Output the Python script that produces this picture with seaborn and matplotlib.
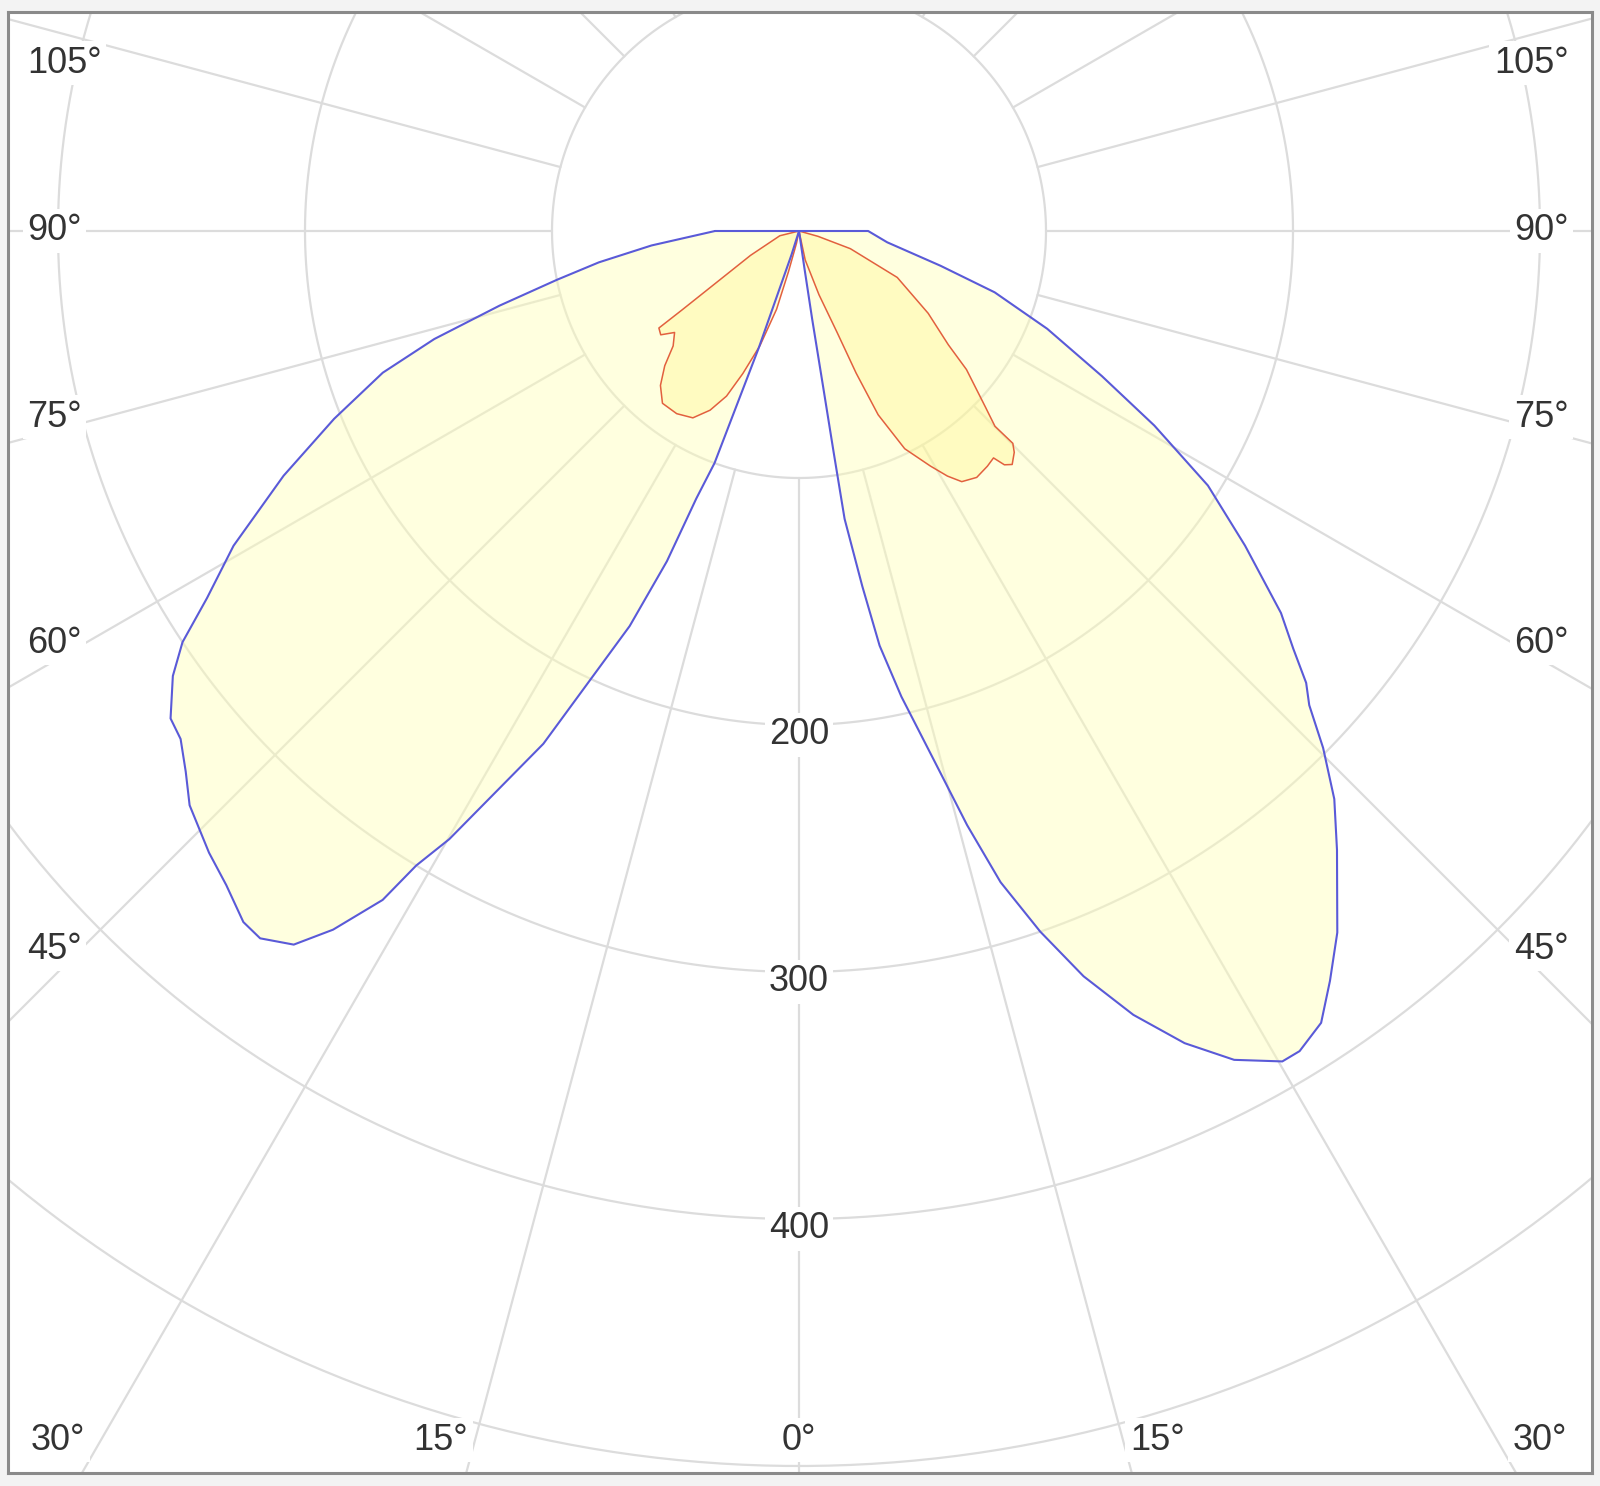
"""Luminous intensity diagram (cd) in C0/C180 and C90/C270 planes."""

import matplotlib
matplotlib.use("Agg")
import matplotlib.pyplot as plt
import numpy as np
import pandas as pd
import seaborn as sns

# C0-C180 plane (blue); negative gamma = C180 side
BLUE_GAMMA = [-90, -84.4, -81.1, -78.6, -76.0, -73.5, -71.2, -68.0, -64.6, -60.9,
              -58.2, -56.3, -54.6, -52.2, -50.6, -48.6, -46.7, -43.5, -41.2, -38.8,
              -37.3, -35.3, -33.7, -31.9, -31.1, -29.9, -26.5, -23.2, -21.8, -21.0,
              -20.0, -19.0, -17.5, -15.0,
              0, 7.5, 8.3, 8.5, 8.8, 8.9, 9.0, 10.1, 11.0, 12.4,
              14.3, 15.8, 17.2, 19.0, 20.9, 23.1, 25.4, 27.7, 30.2, 31.4,
              33.4, 35.3, 37.5, 41.0, 43.3, 45.4, 47.1, 48.3, 49.8, 51.6,
              54.8, 58.1, 61.3, 64.4, 68.5, 72.6, 76.2, 82.7, 90]
BLUE_CD = [34, 60, 82, 100, 125, 154, 178, 203, 231, 262,
           282, 300, 311, 322, 324, 331, 339, 347, 352, 359,
           360, 354, 340, 319, 300, 284, 232, 174, 144, 116,
           100, 50, 10, 0,
           0, 0, 15, 36, 63, 91, 118, 146, 171, 193,
           221, 250, 276, 300, 323, 345, 364, 379, 389, 389,
           384, 372, 358, 332, 316, 298, 282, 275, 262, 249,
           221, 195, 164, 136, 108, 83, 59, 36, 28]

# C90-C270 plane (red)
RED_GAMMA = [-90, -76.1, -63.3, -58.1, -56.0, -55.3, -53.1, -50.8, -47.6, -44.9,
             -41.9, -38.4, -33.8, -29.6, -26.4, -23.7, -21.5, -18.8, -16.0, -14.5,
             -11.5, 0, 12.1, 17.4, 20.6, 21.9, 23.3, 25.9, 29.2, 31.2,
             33.0, 35.8, 38.7, 40.6, 41.3, 42.4, 44.2, 45.2, 45.1, 46.6,
             50.4, 52.7, 57.5, 64.7, 71.0, 74.3, 90]
RED_CD = [0, 8, 22, 39, 57, 69, 70, 65, 69, 77,
          84, 89, 89, 87, 81, 73, 62, 49, 33, 17,
          5, 0, 12, 27, 44, 62, 81, 98, 109, 116,
          121, 123, 122, 121, 126, 128, 125, 122, 112, 104,
          88, 76, 62, 44, 22, 8, 0]

RING_VALUES = [100, 200, 300, 400, 500, 600]
RING_LABELS = [200, 300, 400]
SIDE_ANGLES = [105, 90, 75, 60, 45]
BOTTOM_ANGLES = [-30, -15, 0, 15, 30]

GRID_COLOR = "#dcdcdc"
TEXT_COLOR = "#333333"


def to_xy(gamma, cd):
    g = np.radians(np.asarray(gamma, dtype=float))
    r = np.asarray(cd, dtype=float)
    return r * np.sin(g), -r * np.cos(g)


def curve_frame(gamma, cd):
    x, y = to_xy(gamma, cd)
    x = np.append(x, x[0])
    y = np.append(y, y[0])
    return pd.DataFrame({"x": x, "y": y, "order": np.arange(len(x))})


sns.set_theme(style="white")
plt.rcParams["font.family"] = ["Liberation Sans", "DejaVu Sans"]

fig = plt.figure(figsize=(16, 14.86), dpi=100, facecolor="#f3f3f3")
ax = fig.add_axes([8 / 1600, 13 / 1486, 1584 / 1600, 1461 / 1486])
ax.set_facecolor("white")

# grid: rings and radial spokes (spokes start at the first ring)
t = np.linspace(0, 2 * np.pi, 720)
for r in RING_VALUES:
    ax.plot(r * np.cos(t), r * np.sin(t), color=GRID_COLOR, lw=1.6, zorder=1)
for a in range(0, 360, 15):
    ar = np.radians(a)
    ax.plot([100 * np.sin(ar), 800 * np.sin(ar)],
            [-100 * np.cos(ar), -800 * np.cos(ar)],
            color=GRID_COLOR, lw=1.6, zorder=1)

blue = curve_frame(BLUE_GAMMA, BLUE_CD)
red = curve_frame(RED_GAMMA, RED_CD)

ax.fill(blue["x"], blue["y"], color="#ffffb8", alpha=0.45, lw=0, zorder=2)
ax.fill(red["x"], red["y"], color="#fff48a", alpha=0.35, lw=0, zorder=2)
sns.lineplot(data=blue, x="x", y="y", sort=False, estimator=None,
             color="#5a5ad8", lw=1.5, ax=ax, zorder=4)
sns.lineplot(data=red, x="x", y="y", sort=False, estimator=None,
             color="#e2603e", lw=1.1, ax=ax, zorder=3)

label_box = dict(boxstyle="square,pad=0.12", fc="white", ec="none")
text_kw = dict(fontsize=26, color=TEXT_COLOR, va="center", zorder=5, bbox=label_box)

# angle labels on both sides, nudged just above their spoke
for a in SIDE_ANGLES:
    nudge = 0.0 if a == 90 else 0.9
    ga = np.radians(a + nudge)
    yl = min(-300 * np.cos(ga) / np.sin(ga), 68)
    ax.text(-312.5, yl, f"{a}°", ha="left", **text_kw)
    ax.text(311.5, yl, f"{a}°", ha="right", **text_kw)

# angle labels at the bottom
for a in BOTTOM_ANGLES:
    xl = np.sign(a) * 489.5 * np.tan(np.radians(abs(a) + 1.5))
    ax.text(xl, -489.5, f"{abs(a)}°", ha="center", **text_kw)

# intensity labels along the 0° axis
for r in RING_LABELS:
    ax.text(0, -(r + 4), str(r), ha="center", **text_kw)

ax.set_xlim((8 - 799) / 2.47, (1592 - 799) / 2.47)
ax.set_ylim(-(1473 - 231) / 2.47, (231 - 12) / 2.47)
ax.set_aspect("equal", adjustable="box")
ax.set_xticks([])
ax.set_yticks([])
ax.set_xlabel("")
ax.set_ylabel("")
for s in ax.spines.values():
    s.set_color("#8a8a8a")
    s.set_linewidth(2.2)

fig.savefig("out.png", dpi=100, facecolor=fig.get_facecolor())
